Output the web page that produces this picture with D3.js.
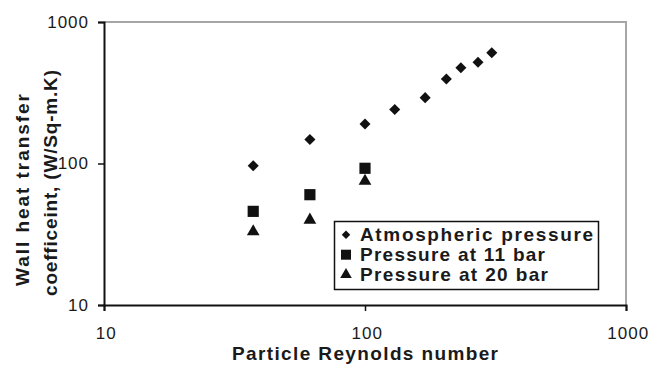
<!DOCTYPE html>
<html>
<head>
<meta charset="utf-8">
<script src="https://cdn.jsdelivr.net/npm/d3@7"></script>
<style>
  html, body { margin: 0; padding: 0; background: #fff; }
  svg { display: block; }
  text { font-family: "Liberation Sans", Arial, sans-serif; fill: #1a1a1a; }
</style>
</head>
<body>
<svg id="chart" width="649" height="366"></svg>
<script>
// Wall heat transfer coefficient vs particle Reynolds number
const atmRe = [37.3, 61.5, 100, 130, 170, 205, 233, 271, 306];
const atmH  = [96.5, 148, 190, 241, 292, 395, 475, 519, 607];
const p11Re = [37.3, 61.5, 100];
const p11H  = [45.9, 60.2, 92.5];
const p20Re = [37.3, 61.5, 100];
const p20H  = [33.0, 39.9, 75.2];

const seriesNames = ["Atmospheric pressure", "Pressure at 11 bar", "Pressure at 20 bar"];
const xTicks = [10, 100, 1000];
const yTicks = [10, 100, 1000];

const svg = d3.select("#chart");
const plotL = 104, plotR = 626, plotT = 22, plotB = 305;

const x = d3.scaleLog().domain([10, 1000]).range([plotL, plotR]);
const y = d3.scaleLog().domain([10, 1000]).range([plotB, plotT]);

// plot frame: grey top/right edges
svg.append("path")
  .attr("d", `M${plotL},${plotT}H${plotR}V${plotB}`)
  .attr("fill", "none").attr("stroke", "#a6a6a6").attr("stroke-width", 2);

// x axis
const xAxis = svg.append("g").attr("transform", `translate(0,${plotB})`)
  .call(d3.axisBottom(x).tickValues(xTicks).tickFormat(d3.format("d")).tickSize(6).tickPadding(16));
xAxis.select(".domain").attr("stroke", "#111").attr("stroke-width", 2);
xAxis.selectAll(".tick line").attr("stroke", "#111").attr("stroke-width", 1.5);
xAxis.selectAll(".tick text").style("font-size", "17px").style("letter-spacing", "1px")
  .attr("dx", "0.1em").attr("fill", "#2a2a2a");

// y axis
const yAxis = svg.append("g").attr("transform", `translate(${plotL},0)`)
  .call(d3.axisLeft(y).tickValues(yTicks).tickFormat(d3.format("d")).tickSize(6).tickPadding(9));
yAxis.select(".domain").attr("stroke", "#111").attr("stroke-width", 2);
yAxis.selectAll(".tick line").attr("stroke", "#111").attr("stroke-width", 1.5);
yAxis.selectAll(".tick text").style("font-size", "17px").style("letter-spacing", "1px")
  .attr("fill", "#2a2a2a");

// axis titles
svg.append("text")
  .attr("x", 365).attr("y", 360)
  .attr("text-anchor", "middle")
  .style("font-size", "19px").style("font-weight", "bold")
  .attr("textLength", 266).attr("lengthAdjust", "spacing")
  .text("Particle Reynolds number");

const yTitle = svg.append("g").attr("transform", "rotate(-90)");
yTitle.append("text").attr("x", -190).attr("y", 29)
  .attr("text-anchor", "middle")
  .style("font-size", "19px").style("font-weight", "bold")
  .attr("textLength", 192).attr("lengthAdjust", "spacing")
  .text("Wall heat transfer");
yTitle.append("text").attr("x", -183).attr("y", 57)
  .attr("text-anchor", "middle")
  .style("font-size", "19px").style("font-weight", "bold")
  .attr("textLength", 226).attr("lengthAdjust", "spacing")
  .text("coefficeint, (W/Sq-m.K)");

// markers
const symDiamond = d3.symbol().type(d3.symbolDiamond2).size(78);
const symSquare = d3.symbol().type(d3.symbolSquare).size(125);
const symTriangle = d3.symbol().type(d3.symbolTriangle).size(70);

function plot(re, h, sym) {
  svg.append("g").selectAll("path")
    .data(re.map((r, i) => [r, h[i]]))
    .join("path")
    .attr("d", sym)
    .attr("transform", d => `translate(${x(d[0])},${y(d[1])})`)
    .attr("fill", "#111");
}
plot(atmRe, atmH, symDiamond);
plot(p11Re, p11H, symSquare);
plot(p20Re, p20H, symTriangle);

// legend
const lg = svg.append("g");
lg.append("rect").attr("x", 334.5).attr("y", 221.5).attr("width", 264).attr("height", 68)
  .attr("fill", "#fff").attr("stroke", "#111").attr("stroke-width", 1.5);
const legendSyms = [
  d3.symbol().type(d3.symbolDiamond2).size(46),
  d3.symbol().type(d3.symbolSquare).size(100),
  d3.symbol().type(d3.symbolTriangle).size(58)
];
const legendLen = [233, 185, 188];
seriesNames.forEach((name, i) => {
  const by = 240.7 + i * 20;
  lg.append("path").attr("d", legendSyms[i])
    .attr("transform", `translate(346,${by - 6})`).attr("fill", "#111");
  lg.append("text").attr("x", 360).attr("y", by)
    .style("font-size", "19px").style("font-weight", "bold")
    .attr("textLength", legendLen[i]).attr("lengthAdjust", "spacing")
    .text(name);
});
</script>
</body>
</html>
